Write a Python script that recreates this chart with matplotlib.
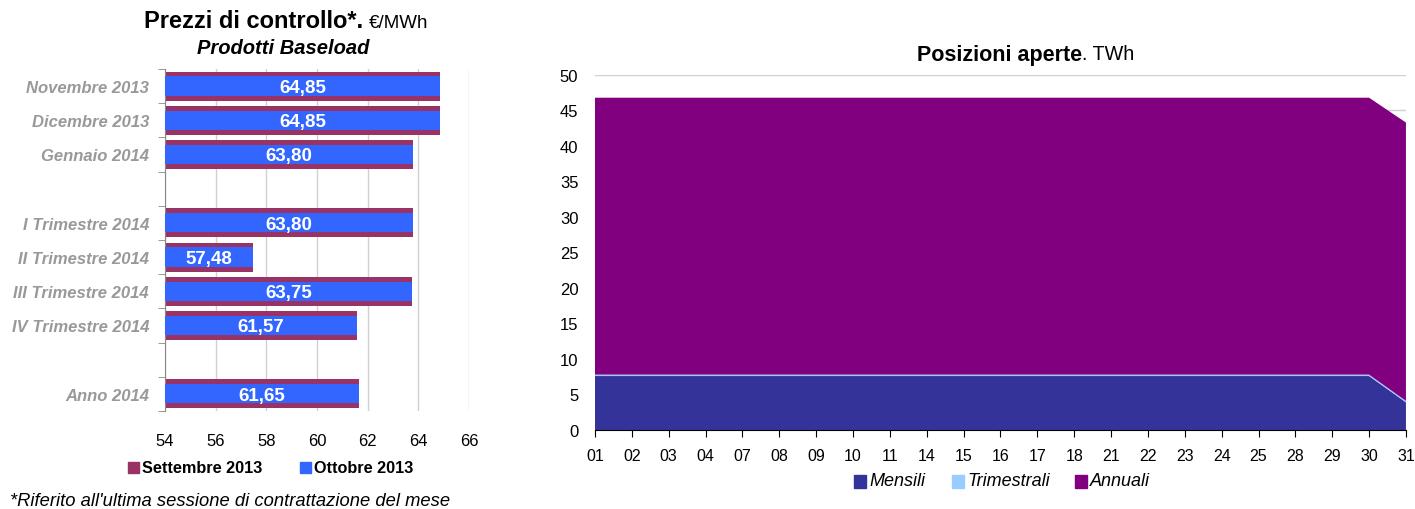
#!/usr/bin/env python
"""Prezzi di controllo (baseload) e posizioni aperte, mese di ottobre 2013."""

import matplotlib
matplotlib.use("Agg")
import matplotlib.pyplot as plt
from matplotlib.patches import Rectangle
import numpy as np

plt.rcParams["font.family"] = ["Liberation Sans", "DejaVu Sans"]

# prezzi di controllo, €/MWh (righe vuote = separatori)
prodotti = ["Novembre 2013", "Dicembre 2013", "Gennaio 2014", "",
            "I Trimestre 2014", "II Trimestre 2014", "III Trimestre 2014",
            "IV Trimestre 2014", "", "Anno 2014"]
prezzi_set = [64.85, 64.85, 63.80, np.nan, 63.80, 57.48, 63.75, 61.57, np.nan, 61.65]
prezzi_ott = [64.85, 64.85, 63.80, np.nan, 63.80, 57.48, 63.75, 61.57, np.nan, 61.65]

# posizioni aperte, TWh
giorni = ["01", "02", "03", "04", "07", "08", "09", "10", "11", "14", "15", "16",
          "17", "18", "21", "22", "23", "24", "25", "28", "29", "30", "31"]
mensili = [7.6] * 22 + [3.9]
trimestrali = [0.2] * 22 + [0.2]
annuali = [39.0] * 22 + [39.2]

VIOLA = "#993366"
BLU = "#3366FF"
GRIGIO = "#999999"
GRID = "#D0D0D0"


def main() -> None:
    fig = plt.figure(figsize=(14.15, 5.10), dpi=100)

    # --- barre prezzi ---
    ax = fig.add_axes([0.1166, 0.1922, 0.2148, 0.6706])
    y = np.arange(len(prodotti))
    base = 54
    set_vals = np.array(prezzi_set) - base
    ott_vals = np.array(prezzi_ott) - base
    ax.barh(y, set_vals, left=base, height=0.85, color=VIOLA, zorder=2)
    ax.barh(y, ott_vals, left=base, height=0.56, color=BLU, zorder=3)
    for yi, v in zip(y, prezzi_ott):
        if np.isnan(v):
            continue
        ax.text((base + v) / 2, yi + 0.04, f"{v:.2f}".replace(".", ","),
                ha="center", va="center", color="white", fontsize=13.5,
                fontweight="bold", zorder=4)
    ax.set_xlim(54, 66)
    ax.set_ylim(len(prodotti) - 0.5, -0.5)
    ax.set_xticks(range(54, 67, 2))
    ax.tick_params(axis="x", length=0, labelsize=12, pad=16)
    ax.set_yticks(np.arange(-0.5, len(prodotti), 1), minor=True)
    ax.set_yticks(y)
    ax.set_yticklabels(prodotti, fontsize=12, fontweight="bold",
                       fontstyle="italic", color=GRIGIO)
    ax.tick_params(axis="y", which="major", length=0, pad=11.5)
    ax.tick_params(axis="y", which="minor", length=5, color="#888888")
    ax.grid(axis="x", color=GRID, linewidth=1, zorder=0)
    for s in ["top", "right", "bottom"]:
        ax.spines[s].set_visible(False)
    ax.spines["left"].set_color("#888888")

    fig.text(363 / 1415, 1 - 22 / 510, "Prezzi di controllo*.", ha="right",
             va="center", fontsize=17, fontweight="bold")
    fig.text(369 / 1415, 1 - 23 / 510, "€/MWh", ha="left", va="center", fontsize=13.5)
    fig.text(283 / 1415, 1 - 49 / 510, "Prodotti Baseload", ha="center",
             va="center", fontsize=14.5, fontweight="bold", fontstyle="italic")

    # legenda prezzi
    for x0, col, lab in [(128, VIOLA, "Settembre 2013"), (300, BLU, "Ottobre 2013")]:
        fig.patches.append(Rectangle((x0 / 1415, 1 - 474 / 510), 11 / 1415, 11 / 510,
                                     transform=fig.transFigure, color=col))
        fig.text((x0 + 14) / 1415, 1 - 469 / 510, lab, ha="left", va="center",
                 fontsize=11.7, fontweight="bold")

    fig.text(10 / 1415, 1 - 502 / 510,
             "*Riferito all'ultima sessione di contrattazione del mese",
             ha="left", va="center", fontsize=13.2, fontstyle="italic")

    # --- aree posizioni aperte ---
    ax2 = fig.add_axes([0.4205, 0.1549, 0.5731, 0.6961])
    x = np.arange(len(giorni))
    ax2.stackplot(x, mensili, trimestrali, annuali,
                  colors=["#333399", "#99CCFF", "#800080"], zorder=2,
                  linewidth=0)
    ax2.set_xlim(0, len(giorni) - 1)
    ax2.set_ylim(0, 50)
    ax2.set_yticks(range(0, 51, 5))
    ax2.set_xticks(x)
    ax2.set_xticklabels(giorni)
    ax2.tick_params(axis="x", length=5, direction="out", labelsize=11.5, pad=8)
    ax2.tick_params(axis="y", length=0, labelsize=12, pad=12)
    ax2.grid(axis="y", color=GRID, linewidth=1, zorder=0)
    for s in ["top", "right", "left"]:
        ax2.spines[s].set_visible(False)
    ax2.spines["bottom"].set_color("black")
    ax2.spines["bottom"].set_zorder(5)

    fig.text(1082 / 1415, 1 - 55 / 510, "Posizioni aperte", ha="right",
             va="center", fontsize=15.5, fontweight="bold")
    fig.text(1082 / 1415, 1 - 55 / 510, ". TWh", ha="left", va="center", fontsize=14.2)

    # legenda posizioni
    for x0, col, lab in [(854, "#333399", "Mensili"), (952, "#99CCFF", "Trimestrali"),
                         (1075, "#800080", "Annuali")]:
        fig.patches.append(Rectangle((x0 / 1415, 1 - 489 / 510), 12 / 1415, 13 / 510,
                                     transform=fig.transFigure, color=col))
        fig.text((x0 + 15) / 1415, 1 - 482 / 510, lab, ha="left", va="center",
                 fontsize=13, fontstyle="italic")

    fig.savefig("out.png", dpi=100)
    plt.close(fig)


if __name__ == "__main__":
    main()
